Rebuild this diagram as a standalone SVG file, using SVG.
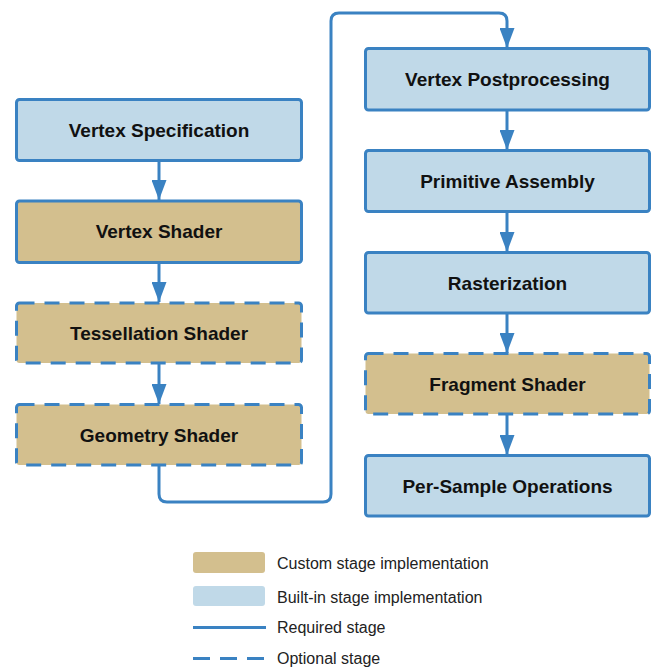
<svg xmlns="http://www.w3.org/2000/svg" width="655" height="667" viewBox="0 0 655 667">
<defs>
<style>
.box{stroke:#3a82c2;stroke-width:3}
.custom{fill:#d3bf8e}
.builtin{fill:#c0d9e8}
.opt{stroke-dasharray:15 10}
.lbl{font-family:"Liberation Sans",Arial,sans-serif;font-weight:bold;font-size:19px;fill:#111;text-anchor:middle}
.leg{font-family:"Liberation Sans",Arial,sans-serif;font-size:16px;fill:#222}
.conn{fill:none;stroke:#3a82c2;stroke-width:3}
</style>
<marker id="arr" markerUnits="userSpaceOnUse" markerWidth="20" markerHeight="15" refX="20" refY="7.5" orient="auto" viewBox="0 0 20 15">
<path d="M0,0 L20,7.5 L0,15 Z" fill="#3a82c2"/>
</marker>
</defs>
<g id="connectors">
<path class="conn" d="M159,161 V200" marker-end="url(#arr)"/>
<path class="conn" d="M159,263 V302" marker-end="url(#arr)"/>
<path class="conn" d="M159,364 V404" marker-end="url(#arr)"/>
<path class="conn" d="M159,466 V494 Q159,502 167,502 H323 Q331,502 331,494 V21 Q331,13 339,13 H499 Q507,13 507,21 V48" marker-end="url(#arr)"/>
<path class="conn" d="M507,111 V150" marker-end="url(#arr)"/>
<path class="conn" d="M507,212 V252" marker-end="url(#arr)"/>
<path class="conn" d="M507,314 V353" marker-end="url(#arr)"/>
<path class="conn" d="M507,415 V455" marker-end="url(#arr)"/>
</g>
<g id="vertex-specification">
<rect class="box builtin" x="16.5" y="99.5" width="285" height="61" rx="3"/>
<text class="lbl" x="159" y="137">Vertex Specification</text>
</g>
<g id="vertex-shader">
<rect class="box custom" x="16.5" y="201" width="285" height="61.5" rx="3"/>
<text class="lbl" x="159" y="238">Vertex Shader</text>
</g>
<g id="tessellation-shader">
<rect class="box custom opt" x="16.5" y="303" width="285" height="60" rx="3"/>
<text class="lbl" x="159" y="339.5">Tessellation Shader</text>
</g>
<g id="geometry-shader">
<rect class="box custom opt" x="16.5" y="404.5" width="285" height="60.5" rx="3"/>
<text class="lbl" x="159" y="441.5">Geometry Shader</text>
</g>
<g id="vertex-postprocessing">
<rect class="box builtin" x="365.5" y="48.5" width="284" height="61.5" rx="3"/>
<text class="lbl" x="507.5" y="86">Vertex Postprocessing</text>
</g>
<g id="primitive-assembly">
<rect class="box builtin" x="365.5" y="150.5" width="284" height="61" rx="3"/>
<text class="lbl" x="507.5" y="188">Primitive Assembly</text>
</g>
<g id="rasterization">
<rect class="box builtin" x="365.5" y="252.5" width="284" height="60.5" rx="3"/>
<text class="lbl" x="507.5" y="289.5">Rasterization</text>
</g>
<g id="fragment-shader">
<rect class="box custom opt" x="365.5" y="353.5" width="284" height="60.5" rx="3"/>
<text class="lbl" x="507.5" y="390.5">Fragment Shader</text>
</g>
<g id="per-sample-operations">
<rect class="box builtin" x="365.5" y="455.5" width="284" height="60.5" rx="3"/>
<text class="lbl" x="507.5" y="492.5">Per-Sample Operations</text>
</g>
<g id="legend">
<rect class="custom" x="193" y="552" width="72" height="21" rx="3"/>
<text class="leg" x="277" y="568.5">Custom stage implementation</text>
<rect class="builtin" x="193" y="586" width="72" height="20" rx="3"/>
<text class="leg" x="277" y="602.5">Built-in stage implementation</text>
<line class="conn" x1="193" y1="627.5" x2="266" y2="627.5"/>
<text class="leg" x="277" y="633">Required stage</text>
<line class="conn" x1="193" y1="658.5" x2="266" y2="658.5" stroke-dasharray="17 10"/>
<text class="leg" x="277" y="663.5">Optional stage</text>
</g>
</svg>
